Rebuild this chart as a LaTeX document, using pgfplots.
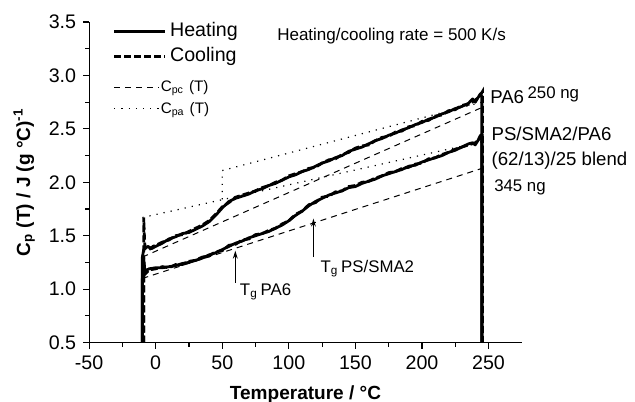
\documentclass[border=0pt]{standalone}
\usepackage{fontspec}
\setmainfont{Liberation Sans}
\usepackage{pgfplots}
\pgfplotsset{compat=1.18}
\usetikzlibrary{arrows.meta}

\pgfplotstableread{
T C
-10 0.5
-10 1.30
-9 1.37
-6 1.40
-3 1.38
0 1.40
5 1.43
10 1.47
15 1.49
20 1.52
25 1.53
30 1.56
35 1.59
40 1.63
45 1.69
50 1.76
55 1.82
60 1.85
65 1.87
70 1.89
75 1.92
80 1.94
85 1.97
90 1.99
95 2.02
100 2.05
105 2.07
110 2.10
115 2.12
120 2.15
125 2.18
130 2.20
135 2.23
140 2.25
145 2.29
150 2.31
155 2.33
160 2.36
165 2.39
170 2.41
175 2.44
180 2.46
185 2.49
190 2.51
195 2.54
200 2.56
205 2.59
210 2.61
215 2.64
220 2.66
225 2.69
230 2.71
235 2.74
238 2.78
240 2.75
242 2.79
244 2.83
245 2.80
245 0.5
}\pahe

\pgfplotstableread{
T C
-9 0.5
-9 1.67
-8.5 1.50
-8 1.38
-5 1.37
-2 1.40
0 1.41
5 1.44
10 1.46
15 1.50
20 1.51
25 1.54
30 1.57
35 1.60
40 1.64
45 1.70
50 1.77
55 1.81
60 1.86
65 1.88
70 1.90
75 1.92
80 1.95
85 1.97
90 2.00
95 2.02
100 2.06
105 2.08
110 2.10
115 2.13
120 2.14
125 2.18
130 2.21
135 2.22
140 2.26
145 2.28
150 2.32
155 2.34
160 2.35
165 2.39
170 2.42
175 2.43
180 2.47
185 2.48
190 2.52
195 2.53
200 2.57
205 2.58
210 2.62
215 2.63
220 2.67
225 2.68
230 2.72
235 2.73
240 2.77
243 2.80
245.5 2.85
245.5 0.5
}\paco

\pgfplotstableread{
T C
-10 0.5
-10 1.10
-9 1.25
-8 1.17
-5 1.19
0 1.20
5 1.20
10 1.21
15 1.22
20 1.24
25 1.25
30 1.27
35 1.29
40 1.32
45 1.34
50 1.37
55 1.40
60 1.43
65 1.45
70 1.48
75 1.50
80 1.52
85 1.54
90 1.57
95 1.60
100 1.64
105 1.69
110 1.73
115 1.78
120 1.82
125 1.85
130 1.88
135 1.90
140 1.92
145 1.95
150 1.96
155 1.99
160 2.01
165 2.03
170 2.06
175 2.08
180 2.10
185 2.12
190 2.15
195 2.16
200 2.19
205 2.21
210 2.23
215 2.25
220 2.28
225 2.30
230 2.33
235 2.36
238 2.37
240 2.35
242 2.39
244 2.44
245 2.42
245 0.5
}\blhe

\pgfplotstableread{
T C
-9 0.5
-9 1.30
-8 1.14
-5 1.18
0 1.19
5 1.21
10 1.20
15 1.23
20 1.23
25 1.26
30 1.27
35 1.30
40 1.31
45 1.35
50 1.36
55 1.41
60 1.42
65 1.46
70 1.47
75 1.51
80 1.52
85 1.55
90 1.57
95 1.61
100 1.64
105 1.70
110 1.73
115 1.79
120 1.81
125 1.86
130 1.87
135 1.91
140 1.92
145 1.96
150 1.97
155 2.00
160 2.01
165 2.04
170 2.06
175 2.09
180 2.10
185 2.13
190 2.14
195 2.17
200 2.18
205 2.22
210 2.23
215 2.26
220 2.28
225 2.31
230 2.33
235 2.35
240 2.37
243 2.40
245.5 2.46
245.5 0.5
}\blco

\begin{document}
\begin{tikzpicture}
\tikzset{
  heat/.style={black, line width=1.4pt, line join=round},
  cool/.style={black, line width=1.4pt, dash pattern=on 3.5pt off 1.5pt},
  cpc/.style={black, line width=0.5pt, dash pattern=on 3pt off 2.5pt},
  cpa/.style={black, line width=0.6pt, dash pattern=on 0.6pt off 3pt},
}
\begin{axis}[
  scale only axis, width=216pt, height=160pt,
  xmin=-50, xmax=275, ymin=0.5, ymax=3.5,
  axis lines*=left, axis line style={line width=0.6pt},
  xtick={-50,0,50,100,150,200,250},
  ytick={0.5,1,1.5,2,2.5,3,3.5},
  minor x tick num=1, minor y tick num=1,
  tick align=outside, major tick length=3pt, minor tick length=2pt,
  tick style={black, line width=0.6pt},
  tick label style={font=\fontsize{9.8}{11}\selectfont},
  /pgf/number format/assume math mode=true,
  yticklabel style={/pgf/number format/.cd, fixed, fixed zerofill, precision=1},
  xlabel={\bfseries Temperature / °C},
  ylabel={\bfseries C\textsubscript{p} (T) / J (g °C)\textsuperscript{-1}},
  label style={font=\fontsize{9.5}{11}\selectfont\bfseries},
  xlabel style={yshift=-1pt},
  ylabel style={yshift=0pt},
  clip=false,
]
% baselines
\addplot[cpc] coordinates {(-10,1.30) (245,2.70)};
\addplot[cpc] coordinates {(-10,1.10) (245,2.13)};
\addplot[cpa] coordinates {(-10,1.67) (245,2.38)};
\addplot[cpa] coordinates {(50,1.84) (50,2.11) (245,2.75)};
% measured curves
\addplot[heat] table[x=T,y=C] {\pahe};
\addplot[heat] table[x=T,y=C] {\blhe};
\addplot[cool] table[x=T,y=C] {\paco};
\addplot[cool] table[x=T,y=C] {\blco};

% legend
\draw[heat] (axis cs:-31.2,3.41) -- (axis cs:7.2,3.41);
\node[anchor=west, inner sep=0pt, font=\fontsize{9.8}{11}\selectfont] at (axis cs:10.5,3.41) {Heating};
\draw[cool] (axis cs:-31.2,3.175) -- (axis cs:7.2,3.175);
\node[anchor=west, inner sep=0pt, font=\fontsize{9.8}{11}\selectfont] at (axis cs:10.5,3.175) {Cooling};
\draw[cpc] (axis cs:-31.2,2.89) -- (axis cs:2.5,2.89);
\node[anchor=west, inner sep=0pt, font=\fontsize{7.6}{9}\selectfont] at (axis cs:3.5,2.88) {C\textsubscript{pc}\,\,(T)};
\draw[cpa] (axis cs:-31.2,2.69) -- (axis cs:2.5,2.69);
\node[anchor=west, inner sep=0pt, font=\fontsize{7.6}{9}\selectfont] at (axis cs:3.5,2.68) {C\textsubscript{pa}\,\,(T)};

\node[anchor=west, inner sep=0pt, font=\fontsize{8.5}{10}\selectfont] at (axis cs:91,3.37) {Heating/cooling rate = 500 K/s};

\node[anchor=west, inner sep=0pt, font=\fontsize{9.3}{11}\selectfont] at (axis cs:251,2.80) {PA6};
\node[anchor=west, inner sep=0pt, font=\fontsize{8.4}{10}\selectfont] at (axis cs:279,2.82) {250 ng};
\node[anchor=west, inner sep=0pt, font=\fontsize{9.3}{11}\selectfont] at (axis cs:252,2.45) {PS/SMA2/PA6};
\node[anchor=west, inner sep=0pt, font=\fontsize{9.3}{11}\selectfont] at (axis cs:252,2.20) {(62/13)/25 blend};
\node[anchor=west, inner sep=0pt, font=\fontsize{8.4}{10}\selectfont] at (axis cs:254,1.95) {345 ng};

\draw[line width=0.5pt, -{Stealth[length=4pt,width=2.4pt]}] (axis cs:59.8,1.06) -- (axis cs:59.8,1.36);
\node[anchor=west, inner sep=0pt, font=\fontsize{8.4}{10}\selectfont] at (axis cs:63,0.97) {T\textsubscript{g}\,PA6};
\draw[line width=0.5pt, -{Stealth[length=4pt,width=2.4pt]}] (axis cs:118.5,1.30) -- (axis cs:118.5,1.66);
\node[anchor=west, inner sep=0pt, font=\fontsize{8.4}{10}\selectfont] at (axis cs:123.5,1.19) {T\textsubscript{g}\,PS/SMA2};
\end{axis}
\pgfresetboundingbox
\path (-44.5pt,-29.5pt) rectangle (272.5pt,171pt);
\end{tikzpicture}
\end{document}
